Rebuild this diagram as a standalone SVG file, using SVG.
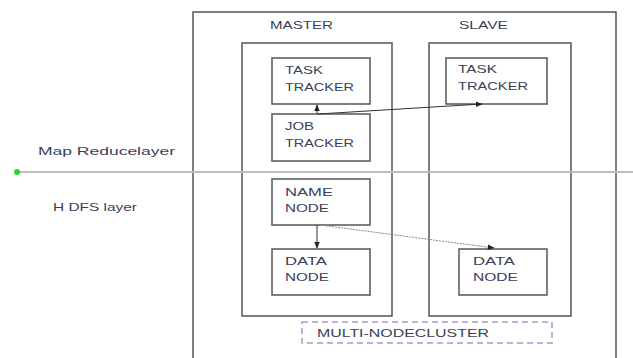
<svg xmlns="http://www.w3.org/2000/svg" width="633" height="358" viewBox="0 0 633 358">
<style>
.t{font-family:"Liberation Sans",Arial,sans-serif;font-size:10.5px;fill:#3a3f58;}
.box{fill:#fff;stroke:#555;stroke-width:1.5;}
.frame{fill:none;stroke:#555;stroke-width:1.5;}
.c{fill:none;stroke:#333;stroke-width:1;}
</style>
<defs>
<marker id="ah" viewBox="0 0 10 10" refX="9" refY="5" markerWidth="7" markerHeight="7" orient="auto"><path d="M0,1 L10,5 L0,9 z" fill="#222"/></marker>
</defs>
<rect width="633" height="358" fill="#fff"/>
<g id="cluster">
<path class="frame" d="M193,358 V12 H616 V358"/>
<text class="t" x="270" y="29" textLength="63" lengthAdjust="spacingAndGlyphs" fill="#5a4f4a">MASTER</text>
<text class="t" x="459" y="29" textLength="49" lengthAdjust="spacingAndGlyphs">SLAVE</text>
</g>
<g id="master"><rect class="box" x="242" y="43" width="150" height="273"/></g>
<g id="slave"><rect class="box" x="429" y="43" width="142" height="273"/></g>
<g id="layer-line">
<line x1="17" y1="172" x2="633" y2="172" stroke="#bdbdbd" stroke-width="2"/>
<circle cx="17" cy="172" r="3" fill="#2bd12b"/>
<text class="t" x="38" y="155" textLength="137" lengthAdjust="spacingAndGlyphs">Map Reducelayer</text>
<text class="t" x="53" y="211" textLength="84" lengthAdjust="spacingAndGlyphs">H DFS layer</text>
</g>
<g id="master-task-tracker"><rect class="box" x="272" y="58" width="98" height="46"/>
<text class="t" x="285" y="74" textLength="38" lengthAdjust="spacingAndGlyphs">TASK</text>
<text class="t" x="285" y="91" textLength="69" lengthAdjust="spacingAndGlyphs">TRACKER</text></g>
<g id="job-tracker"><rect class="box" x="272" y="114" width="98" height="47"/>
<text class="t" x="285" y="130" textLength="29" lengthAdjust="spacingAndGlyphs">JOB</text>
<text class="t" x="285" y="147" textLength="69" lengthAdjust="spacingAndGlyphs">TRACKER</text></g>
<g id="name-node"><rect class="box" x="272" y="179" width="98" height="46"/>
<text class="t" x="285" y="196" textLength="48" lengthAdjust="spacingAndGlyphs">NAME</text>
<text class="t" x="285" y="212" textLength="44" lengthAdjust="spacingAndGlyphs">NODE</text></g>
<g id="master-data-node"><rect class="box" x="272" y="249" width="98" height="46"/>
<text class="t" x="285" y="265" textLength="42" lengthAdjust="spacingAndGlyphs">DATA</text>
<text class="t" x="285" y="281" textLength="44" lengthAdjust="spacingAndGlyphs">NODE</text></g>
<g id="slave-task-tracker"><rect class="box" x="446" y="58" width="101" height="46"/>
<text class="t" x="458" y="73" textLength="39" lengthAdjust="spacingAndGlyphs">TASK</text>
<text class="t" x="458" y="90" textLength="70" lengthAdjust="spacingAndGlyphs">TRACKER</text></g>
<g id="slave-data-node"><rect class="box" x="459" y="249" width="88" height="46"/>
<text class="t" x="473" y="265" textLength="42" lengthAdjust="spacingAndGlyphs">DATA</text>
<text class="t" x="473" y="281" textLength="45" lengthAdjust="spacingAndGlyphs">NODE</text></g>
<g id="multi-node-cluster">
<rect x="302" y="322" width="250" height="21" fill="none" stroke="#a899cc" stroke-width="1.5" stroke-dasharray="6,4"/>
<text class="t" x="317" y="337" textLength="172" lengthAdjust="spacingAndGlyphs">MULTI-NODECLUSTER</text>
</g>
<g id="connectors">
<line class="c" x1="317" y1="114" x2="317" y2="105" marker-end="url(#ah)"/>
<line class="c" x1="318" y1="114" x2="482" y2="104" marker-end="url(#ah)"/>
<line class="c" x1="317" y1="225" x2="317" y2="248" marker-end="url(#ah)"/>
<line x1="320" y1="225" x2="494" y2="248" stroke="#888" stroke-width="1" stroke-dasharray="2,1" marker-end="url(#ah)"/>
</g>
</svg>
